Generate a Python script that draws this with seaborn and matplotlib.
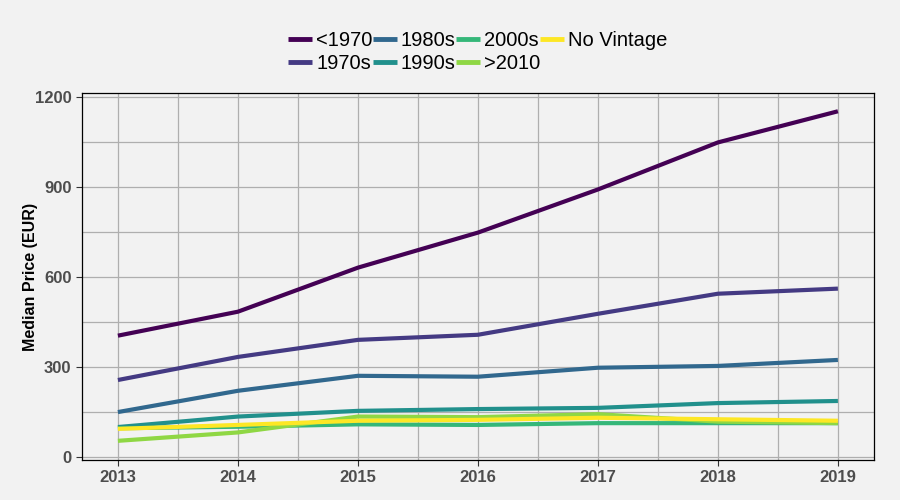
import numpy as np
import pandas as pd
import seaborn as sns
import matplotlib.pyplot as plt
from matplotlib.ticker import MultipleLocator

years = [2013, 2014, 2015, 2016, 2017, 2018, 2019]
vintages = ["<1970", "1970s", "1980s", "1990s", "2000s", ">2010", "No Vintage"]

pre_1970 = [405, 485, 632, 749, 893, 1050, 1154]
s1970s = [257, 334, 391, 408, 478, 545, 562]
s1980s = [150, 221, 271, 268, 298, 304, 324]
s1990s = [100, 135, 154, 160, 164, 180, 187]
s2000s = [96, 101, 109, 107, 113, 113, 113]
post_2010 = [54, 82, 135, 133, 143, 118, 113]
no_vintage = [94, 107, 121, 124, 131, 126, 121]

colors = ["#440154", "#443A83", "#31688E", "#21908C", "#35B779", "#8FD744", "#FDE725"]

values = [pre_1970, s1970s, s1980s, s1990s, s2000s, post_2010, no_vintage]
df = pd.DataFrame({
    "Year": years * len(vintages),
    "Vintage": np.repeat(vintages, len(years)),
    "Price": np.concatenate(values),
})

bg = "#F2F2F2"
sns.set_style("whitegrid")
plt.rcParams["font.family"] = ["Liberation Sans", "DejaVu Sans"]

fig, ax = plt.subplots(figsize=(9, 5), dpi=100)
fig.patch.set_facecolor(bg)
ax.set_facecolor(bg)
fig.subplots_adjust(left=0.091, right=0.971, top=0.814, bottom=0.08)

sns.lineplot(data=df, x="Year", y="Price", hue="Vintage", hue_order=vintages,
             palette=colors, linewidth=3, ax=ax)
for ln in ax.get_lines():
    ln.set_solid_capstyle("butt")

ax.set_xlim(2012.7, 2019.3)
ax.set_ylim(-10, 1215)
ax.yaxis.set_major_locator(MultipleLocator(300))
ax.yaxis.set_minor_locator(MultipleLocator(150))
ax.xaxis.set_major_locator(MultipleLocator(1))
ax.xaxis.set_minor_locator(MultipleLocator(0.5))
ax.grid(which="both", color="#AFAFAF", linewidth=0.9)
ax.set_axisbelow(True)
for s in ax.spines.values():
    s.set_color("black")
    s.set_linewidth(0.9)

ax.tick_params(axis="both", which="major", length=4, color="#333333",
               labelsize=12, labelcolor="#4D4D4D", bottom=True, left=True)
ax.tick_params(axis="both", which="minor", length=0)
ax.set_xticks(years)
ax.set_xticklabels([str(y) for y in years])
for lab in ax.get_xticklabels() + ax.get_yticklabels():
    lab.set_fontweight("bold")
ax.set_xlabel("")
ax.set_ylabel("Median Price (EUR)", fontsize=11.5, fontweight="bold", color="black")
ax.yaxis.set_label_coords(-0.056, 0.5)

handles, labels = ax.get_legend_handles_labels()
hmap = dict(zip(labels, handles))
leg = ax.legend([hmap[l] for l in vintages], vintages, loc="lower center",
                bbox_to_anchor=(0.5, 1.015), ncol=4, frameon=False, fontsize=14.5,
                handlelength=1.2, handletextpad=0.2, columnspacing=0.0,
                labelspacing=0.2, borderaxespad=0.3)
for t in leg.get_texts():
    t.set_color("black")
for h in leg.legend_handles:
    h.set_linewidth(3.5)

fig.savefig("out.png", dpi=100, facecolor=bg)
